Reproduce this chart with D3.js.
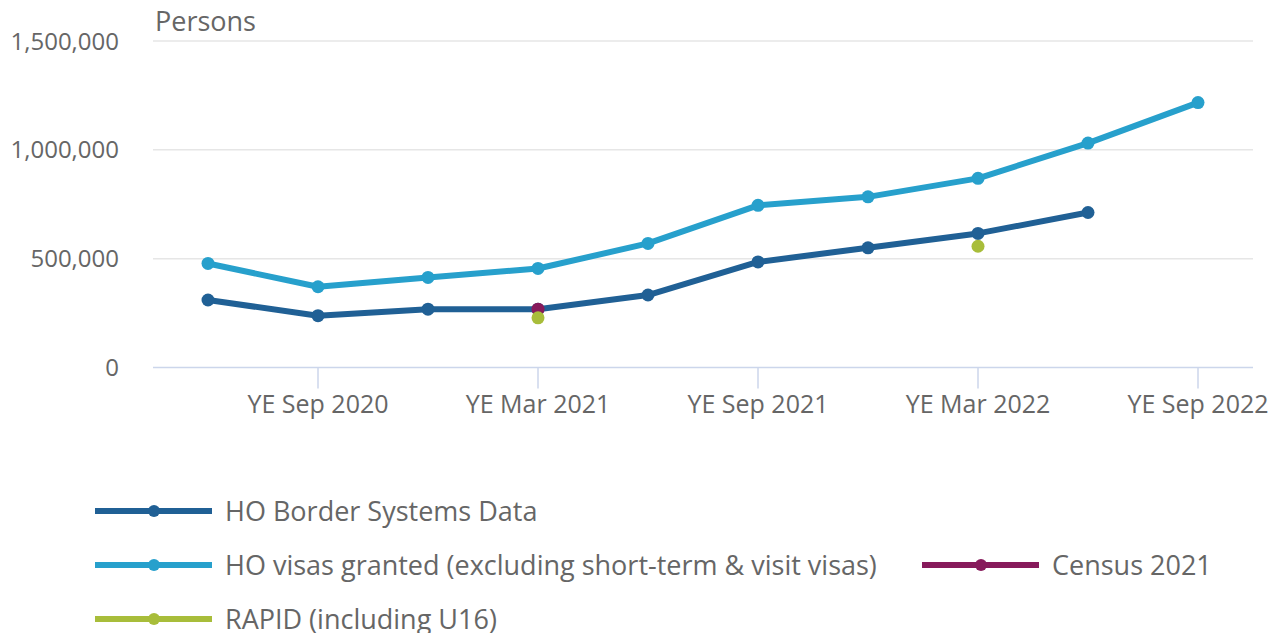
<!DOCTYPE html>
<html><head><meta charset="utf-8">
<script src="https://cdn.jsdelivr.net/npm/d3@7"></script>
<style>body{margin:0;background:#fff;}svg{display:block;font-family:"Open Sans",sans-serif;}</style>
</head><body><svg id="c" width="1277" height="633"></svg>
<script>
const categories = ["YE Jun 2020","YE Sep 2020","YE Dec 2020","YE Mar 2021","YE Jun 2021","YE Sep 2021","YE Dec 2021","YE Mar 2022","YE Jun 2022","YE Sep 2022"];
const tickLabels = ["YE Sep 2020","YE Mar 2021","YE Sep 2021","YE Mar 2022","YE Sep 2022"];
const yTicks = [0, 500000, 1000000, 1500000];
const borderValues = [310000, 238000, 268000, 268000, 333000, 485000, 550000, 616000, 712000, null];
const visaValues = [478000, 371000, 414000, 455000, 570000, 745000, 784000, 869000, 1031000, 1217000];
const censusValues = [null, null, null, 268000, null, null, null, null, null, null];
const rapidValues = [null, null, null, 228000, null, null, null, 557000, null, null];
const seriesNames = ["HO Border Systems Data","HO visas granted (excluding short-term & visit visas)","Census 2021","RAPID (including U16)"];
const seriesColors = ["#206095","#27a0cc","#871a5b","#a8bd3a"];

(function(){
const series = [borderValues, visaValues, censusValues, rapidValues].map((v,i)=>({name:seriesNames[i], color:seriesColors[i], values:v}));

const svg = d3.select("#c");
const pLeft = 153, pRight = 1253, pTop = 41, pBottom = 367.5;
const x = d3.scaleBand().domain(categories).range([pLeft, pRight]).padding(0);
const cx = d => x(d) + x.bandwidth()/2;
const y = d3.scaleLinear().domain([0, 1500000]).range([pBottom, pTop]);
const textColor = "#666666";

svg.append("g").selectAll("line").data(yTicks.filter(t=>t>0)).join("line")
  .attr("x1", pLeft).attr("x2", pRight).attr("y1", d=>y(d)).attr("y2", d=>y(d))
  .attr("stroke", "#e6e6e6").attr("stroke-width", 1.5);

svg.append("g").selectAll("text").data(yTicks).join("text")
  .attr("x", 119).attr("y", d=>y(d)).attr("dy", "0.36em").attr("text-anchor","end")
  .attr("font-size", 24).attr("fill", textColor)
  .text(d3.format(","));

svg.append("text").attr("x", 155).attr("y", 31).attr("font-size", 27).attr("fill", textColor).text("Persons");

svg.append("line").attr("x1", pLeft).attr("x2", pRight).attr("y1", pBottom).attr("y2", pBottom)
  .attr("stroke", "#ccd6eb").attr("stroke-width", 1.5);
const xt = svg.append("g").selectAll("g").data(tickLabels).join("g")
  .attr("transform", d=>`translate(${cx(d)},0)`);
xt.append("line").attr("y1", pBottom).attr("y2", pBottom+21).attr("stroke", "#ccd6eb").attr("stroke-width", 1.5);
xt.append("text").attr("y", 413).attr("text-anchor","middle").attr("font-size", 25).attr("fill", textColor).text(d=>d);

const line = d3.line().defined(d=>d.v!=null).x(d=>cx(d.c)).y(d=>y(d.v));
series.forEach(s=>{
  const pts = s.values.map((v,i)=>({c:categories[i], v}));
  svg.append("path").datum(pts).attr("d", line).attr("fill","none")
    .attr("stroke", s.color).attr("stroke-width", 6).attr("stroke-linejoin","round").attr("stroke-linecap","round");
});
series.forEach(s=>{
  const pts = s.values.map((v,i)=>({c:categories[i], v})).filter(d=>d.v!=null);
  svg.append("g").selectAll("circle").data(pts).join("circle")
    .attr("cx", d=>cx(d.c)).attr("cy", d=>y(d.v)).attr("r", 6.5).attr("fill", s.color);
});

const legendPos = [
  {x:95, y:511, i:0},
  {x:95, y:565, i:1},
  {x:922, y:565, i:2},
  {x:95, y:619, i:3}
];
legendPos.forEach(p=>{
  const s = series[p.i];
  const g = svg.append("g").attr("transform", `translate(${p.x},${p.y})`);
  g.append("line").attr("x1",0).attr("x2",117).attr("stroke", s.color).attr("stroke-width",6);
  g.append("circle").attr("cx",59).attr("r",6).attr("fill", s.color);
  g.append("text").attr("x",130).attr("dy","0.36em").attr("font-size",27).attr("fill",textColor).text(s.name);
});
})();
</script></body></html>
